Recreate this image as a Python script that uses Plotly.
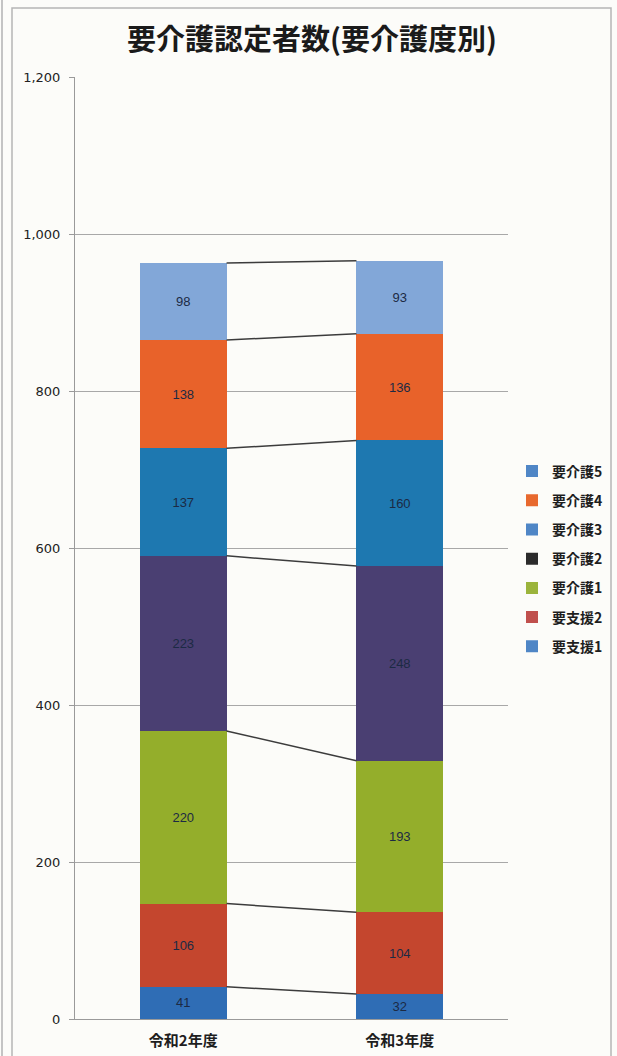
import plotly.graph_objects as go

categories = ["令和2年度", "令和3年度"]
series_names = ["要支援1", "要支援2", "要介護1", "要介護2", "要介護3", "要介護4", "要介護5"]
yosien1 = [41, 32]
yosien2 = [106, 104]
kaigo1 = [220, 193]
kaigo2 = [223, 248]
kaigo3 = [137, 160]
kaigo4 = [138, 136]
kaigo5 = [98, 93]
series_values = [yosien1, yosien2, kaigo1, kaigo2, kaigo3, kaigo4, kaigo5]
y_tick_vals = [0, 200, 400, 600, 800, 1000, 1200]
y_tick_text = ["0", "200", "400", "600", "800", "1,000", "1,200"]

bar_colors = ["#2F6DB5", "#C4462E", "#94AE2B", "#4A3F72", "#1E78B0", "#E8622A", "#82A7D8"]
legend_colors = ["#4F86C6", "#C0504D", "#9BB43C", "#2B2B2B", "#4F86C6", "#E8692E", "#4F86C6"]

W, H = 617, 1056
ML, MR, MT, MB = 75, 109, 77, 37
PW, PH = W - ML - MR, H - MT - MB

bargap = 0.6
half_w = (1 - bargap) / 2

fig = go.Figure()
for name, vals, col in zip(series_names, series_values, bar_colors):
    fig.add_trace(go.Bar(
        x=categories, y=vals, name=name, marker=dict(color=col, line=dict(width=0)),
        text=[str(v) for v in vals], textposition="inside", insidetextanchor="middle",
        textfont=dict(family="Liberation Sans", size=13, color="#1C2A44"),
        showlegend=False, hoverinfo="skip",
    ))

# legend entries (top to bottom)
for i, (name, col) in enumerate(zip(series_names[::-1], legend_colors[::-1])):
    fig.add_trace(go.Scatter(
        x=[None], y=[None], mode="markers", name=name,
        marker=dict(symbol="square", size=7, color=col),
        legendgroup=f"g{i}", showlegend=True,
    ))

# series connector lines between bar tops
cum = [0, 0]
shapes = []
for vals in series_values:
    cum = [cum[0] + vals[0], cum[1] + vals[1]]
    shapes.append(dict(type="line", xref="x", yref="y",
                       x0=0 + half_w, x1=1 - half_w, y0=cum[0], y1=cum[1],
                       line=dict(color="#3C3C3C", width=1.5)))

def px_x(p):
    return (p - ML) / PW

def px_y(p):
    return 1 - (p - MT) / PH

# outer frame lines
shapes.append(dict(type="rect", xref="paper", yref="paper",
                   x0=px_x(12), x1=px_x(611), y0=px_y(1100), y1=px_y(8),
                   line=dict(color="#B5B5B5", width=1.5), layer="below"))
shapes.append(dict(type="line", xref="paper", yref="paper",
                   x0=px_x(2), x1=px_x(2), y0=px_y(1100), y1=px_y(-10),
                   line=dict(color="#C4C4C4", width=2), layer="below"))

fig.update_layout(
    width=W, height=H,
    margin=dict(l=ML, r=MR, t=MT, b=MB, autoexpand=False),
    paper_bgcolor="#FCFCF9", plot_bgcolor="#FCFCF9",
    barmode="stack", bargap=bargap,
    title=dict(text="<b>要介護認定者数(要介護度別)</b>", x=312 / W, xanchor="center", xref="container",
               y=1 - 40 / H, yanchor="middle", yref="container",
               font=dict(family="Noto Sans CJK JP", size=29, color="#1A1A1A")),
    xaxis=dict(type="category", tickfont=dict(family="Noto Sans CJK JP", size=15, color="#1E1E1E", weight="bold"),
               showline=True, linecolor="#9A9A9A", linewidth=1, ticks="", showgrid=False,
               ticklabelstandoff=8, range=[-0.5, 1.5]),
    yaxis=dict(range=[0, 1200], tickvals=y_tick_vals, ticktext=y_tick_text,
               tickfont=dict(family="DejaVu Sans", size=13, color="#222222"),
               showgrid=True, gridcolor="#A8A8A8", gridwidth=1,
               showline=True, linecolor="#9A9A9A", linewidth=1,
               ticks="outside", ticklen=5, tickcolor="#9A9A9A", zeroline=False,
               ticklabelstandoff=6),
    legend=dict(x=px_x(512), xanchor="left", y=px_y(559), yanchor="middle",
                font=dict(family="Noto Sans CJK JP", size=14, color="#1E1E1E", weight="bold"),
                traceorder="grouped", tracegroupgap=8, itemsizing="constant",
                bgcolor="rgba(0,0,0,0)"),
    shapes=shapes,
)

fig.write_html("out.html")
